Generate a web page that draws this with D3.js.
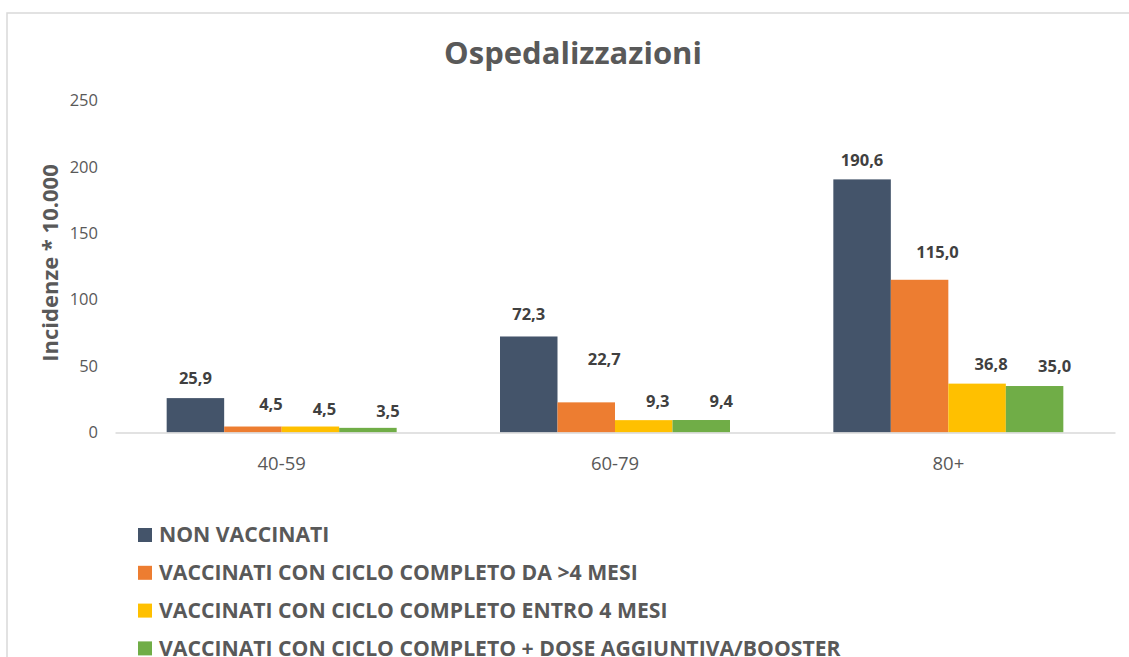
<!DOCTYPE html>
<html>
<head>
<meta charset="utf-8">
<script src="https://cdn.jsdelivr.net/npm/d3@7"></script>
<style>
  body { margin: 0; background: #fff; }
  svg { font-family: "Open Sans", "Liberation Sans", sans-serif; }
</style>
</head>
<body>
<svg width="1129" height="657"></svg>
<script>
// categorie (fasce d'età) e serie
const categories = ['40-59', '60-79', '80+'];
const seriesNames = [
    'NON VACCINATI',
    'VACCINATI CON CICLO COMPLETO DA >4 MESI',
    'VACCINATI CON CICLO COMPLETO ENTRO 4 MESI',
    'VACCINATI CON CICLO COMPLETO + DOSE AGGIUNTIVA/BOOSTER'
];
const nonVaccinati = [25.9, 72.3, 190.6];
const completoOltre4 = [4.5, 22.7, 115.0];
const completoEntro4 = [4.5, 9.3, 36.8];
const booster = [3.5, 9.4, 35.0];
const yTicks = [0, 50, 100, 150, 200, 250];

const colors = ['#44546a', '#ed7d31', '#ffc000', '#70ad47'];
const seriesValues = [nonVaccinati, completoOltre4, completoEntro4, booster];

// spostamenti delle etichette (come nell'originale, spostate a mano)
const labelDx = [0, 18, 14, 20];
const labelDy = [
    [20, 22, 19],
    [22, 43, 28],
    [17, 19, 19],
    [17, 19, 20]
];

const svg = d3.select('svg');

// cornice del grafico
svg.append('rect')
    .attr('x', 7).attr('y', 13)
    .attr('width', 1140).attr('height', 700)
    .attr('fill', 'none')
    .attr('stroke', '#d9d9d9')
    .attr('stroke-width', 1.5);

// titolo
svg.append('text')
    .attr('x', 573).attr('y', 64)
    .attr('text-anchor', 'middle')
    .style('font-size', '31px')
    .style('font-weight', 'bold')
    .style('fill', '#595959')
    .text('Ospedalizzazioni');

const scaleX = d3.scaleBand()
    .domain(categories)
    .range([115, 1115])
    .paddingInner(0.31)
    .paddingOuter(0.155);

const scaleSeries = d3.scaleBand()
    .domain(d3.range(seriesNames.length))
    .range([0, scaleX.bandwidth()]);

const scaleY = d3.scaleLinear().domain([0, 250]).range([432.5, 100.5]);

// asse Y (solo etichette)
const axisY = d3.axisLeft(scaleY).tickValues(yTicks).tickSize(0).tickPadding(0);
const gY = svg.append('g')
    .attr('transform', 'translate(98, 0)')
    .call(axisY);
gY.select('.domain').remove();
gY.selectAll('text')
    .style('font-family', '"Open Sans", sans-serif')
    .style('font-size', '16.5px')
    .style('fill', '#595959');

// titolo asse Y
svg.append('text')
    .attr('transform', 'translate(58, 263) rotate(-90)')
    .attr('text-anchor', 'middle')
    .style('font-size', '22px')
    .style('font-weight', 'bold')
    .style('fill', '#595959')
    .text('Incidenze * 10.000');

// barre
seriesValues.forEach((values, s) => {
    svg.append('g')
        .selectAll('rect')
        .data(values)
        .enter()
        .append('rect')
        .attr('x', (d, i) => scaleX(categories[i]) + scaleSeries(s))
        .attr('y', d => scaleY(d))
        .attr('width', scaleSeries.bandwidth())
        .attr('height', d => scaleY(0) - scaleY(d))
        .style('fill', colors[s]);

    svg.append('g')
        .selectAll('text')
        .data(values)
        .enter()
        .append('text')
        .attr('x', (d, i) => scaleX(categories[i]) + scaleSeries(s) + scaleSeries.bandwidth() / 2 + labelDx[s])
        .attr('y', (d, i) => scaleY(d) - labelDy[s][i])
        .attr('dy', '0.35em')
        .attr('text-anchor', 'middle')
        .style('font-size', '16.5px')
        .style('font-weight', 'bold')
        .style('fill', '#404040')
        .text(d => d.toFixed(1).replace('.', ','));
});

// asse X
const axisX = d3.axisBottom(scaleX).tickSize(0).tickPadding(0);
const gX = svg.append('g')
    .attr('transform', `translate(0, ${scaleY(0)})`)
    .call(axisX);
gX.select('.domain')
    .attr('stroke', '#d9d9d9')
    .attr('stroke-width', 1.5);
gX.selectAll('text')
    .attr('dy', 0)
    .attr('y', 37)
    .style('font-family', '"Open Sans", sans-serif')
    .style('font-size', '18.5px')
    .style('fill', '#595959');

// legenda
const legend = svg.append('g')
    .selectAll('g')
    .data(seriesNames)
    .enter()
    .append('g')
    .attr('transform', (d, i) => `translate(138, ${535 + i * 37.8})`);

legend.append('rect')
    .attr('x', 0).attr('y', -7)
    .attr('width', 14).attr('height', 14)
    .style('fill', (d, i) => colors[i]);

legend.append('text')
    .attr('x', 21)
    .attr('dy', '0.35em')
    .style('font-size', '21.2px')
    .style('font-weight', 'bold')
    .style('fill', '#595959')
    .text(d => d);
</script>
</body>
</html>
